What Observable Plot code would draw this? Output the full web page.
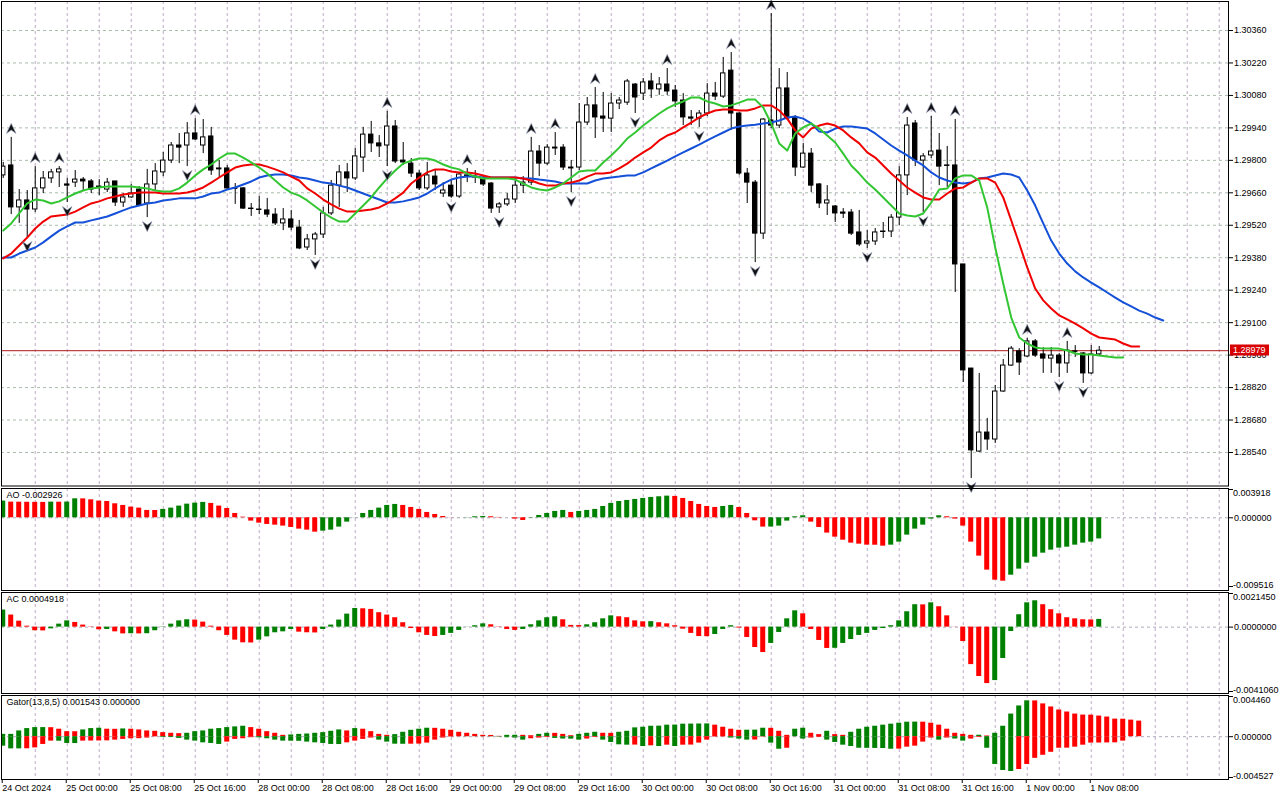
<!DOCTYPE html>
<html><head><meta charset="utf-8">
<script src="https://cdn.jsdelivr.net/npm/d3@7"></script>
<script src="https://cdn.jsdelivr.net/npm/@observablehq/plot@0.6"></script>
<style>
body{margin:0;background:#fff;}
#wrap{position:relative;width:1280px;height:800px;overflow:hidden;background:#fff;}
#wrap svg{position:absolute;left:0;max-width:none !important;}
</style></head><body><div id="wrap"></div>
<script>
// ---------- DATA (GBPUSD H1) ----------
const open=[1.29735,1.29778,1.29597,1.29627,1.29588,1.29679,1.29722,1.29748,1.29696,1.29704,
1.29717,1.29709,1.29687,1.29674,1.29709,1.29618,1.29640,1.29674,1.29614,1.29696,
1.29748,1.29799,1.29864,1.29864,1.29916,1.29864,1.29903,1.29765,1.29765,1.29679,
1.29679,1.29592,1.29588,1.29584,1.29566,1.29528,1.29545,1.29510,1.29424,1.29459,
1.29480,1.29571,1.29691,1.29748,1.29722,1.29812,1.29911,1.29873,1.29864,1.29946,
1.29799,1.29786,1.29743,1.29679,1.29730,1.29657,1.29691,1.29644,1.29735,1.29730,
1.29722,1.29700,1.29597,1.29610,1.29631,1.29691,1.29704,1.29838,1.29786,1.29855,
1.29855,1.29769,1.29769,1.29963,1.30037,1.29989,1.29980,1.30045,1.30049,1.30127,
1.30088,1.30140,1.30106,1.30127,1.30101,1.30058,1.29985,1.29980,1.30002,1.30088,
1.30075,1.30187,1.30002,1.29743,1.29704,1.29484,1.29972,1.29950,1.30110,1.29985,
1.29769,1.29829,1.29696,1.29614,1.29601,1.29575,1.29575,1.29489,1.29441,1.29450,
1.29493,1.29493,1.29553,1.29735,1.29959,1.29799,1.29821,1.29842,1.29778,1.29778,
1.29351,1.28902,1.28544,1.28626,1.28596,1.28803,1.28915,1.28976,1.28954,1.29019,
1.28963,1.28945,1.28958,1.28924,1.28976,1.28967,1.28881,1.28963];
const high=[1.29791,1.29899,1.29674,1.29670,1.29773,1.29752,1.29761,1.29773,1.29722,1.29756,
1.29726,1.29717,1.29717,1.29722,1.29709,1.29657,1.29696,1.29687,1.29761,1.29786,
1.29834,1.29877,1.29916,1.29963,1.29980,1.29976,1.29942,1.29799,1.29778,1.29700,
1.29683,1.29614,1.29644,1.29636,1.29592,1.29592,1.29584,1.29541,1.29480,1.29489,
1.29597,1.29713,1.29778,1.29786,1.29851,1.29942,1.29968,1.29907,1.30011,1.29972,
1.29877,1.29808,1.29756,1.29791,1.29756,1.29704,1.29713,1.29748,1.29765,1.29756,
1.29735,1.29704,1.29618,1.29657,1.29722,1.29730,1.29899,1.29864,1.29868,1.29920,
1.29868,1.29799,1.30045,1.30071,1.30114,1.30093,1.30088,1.30071,1.30149,1.30131,
1.30153,1.30175,1.30157,1.30196,1.30123,1.30088,1.30015,1.30015,1.30131,1.30136,
1.30244,1.30265,1.30006,1.29765,1.29713,1.29980,1.30433,1.30196,1.30179,1.29993,
1.29873,1.29851,1.29700,1.29691,1.29605,1.29592,1.29588,1.29584,1.29497,1.29506,
1.29532,1.29566,1.29773,1.29985,1.29972,1.29829,1.29989,1.29916,1.29860,1.29976,
1.29351,1.28902,1.28881,1.28687,1.28829,1.28941,1.28997,1.28988,1.29032,1.29027,
1.28993,1.28993,1.28967,1.29019,1.29001,1.28971,1.29001,1.28997];
const low=[1.29722,1.29566,1.29528,1.29467,1.29575,1.29657,1.29700,1.29683,1.29618,1.29683,
1.29670,1.29657,1.29648,1.29661,1.29601,1.29597,1.29636,1.29601,1.29553,1.29670,
1.29730,1.29786,1.29786,1.29773,1.29886,1.29829,1.29735,1.29722,1.29670,1.29610,
1.29588,1.29558,1.29566,1.29553,1.29519,1.29497,1.29497,1.29415,1.29411,1.29390,
1.29463,1.29562,1.29597,1.29661,1.29713,1.29748,1.29834,1.29812,1.29773,1.29786,
1.29778,1.29726,1.29670,1.29670,1.29670,1.29640,1.29636,1.29636,1.29704,1.29700,
1.29687,1.29571,1.29571,1.29601,1.29614,1.29657,1.29691,1.29730,1.29778,1.29821,
1.29756,1.29661,1.29756,1.29950,1.29894,1.29920,1.29920,1.30019,1.30037,1.30002,
1.30058,1.30067,1.30080,1.30080,1.30028,1.29950,1.29950,1.29942,1.29989,1.30058,
1.30067,1.29929,1.29735,1.29614,1.29359,1.29459,1.29937,1.29937,1.29972,1.29730,
1.29765,1.29661,1.29592,1.29562,1.29532,1.29549,1.29476,1.29428,1.29420,1.29433,
1.29463,1.29467,1.29519,1.29648,1.29773,1.29575,1.29808,1.29691,1.29683,1.29230,
1.28842,1.28428,1.28540,1.28549,1.28579,1.28799,1.28911,1.28872,1.28950,1.28950,
1.28881,1.28881,1.28863,1.28881,1.28950,1.28838,1.28876,1.28958];
const close=[1.29773,1.29597,1.29627,1.29588,1.29679,1.29722,1.29748,1.29761,1.29691,1.29717,
1.29709,1.29674,1.29683,1.29704,1.29618,1.29640,1.29657,1.29605,1.29696,1.29752,
1.29799,1.29864,1.29855,1.29916,1.29890,1.29899,1.29756,1.29761,1.29679,1.29677,
1.29592,1.29590,1.29586,1.29566,1.29528,1.29545,1.29510,1.29420,1.29459,1.29480,
1.29571,1.29691,1.29748,1.29722,1.29817,1.29911,1.29873,1.29860,1.29946,1.29795,
1.29791,1.29743,1.29679,1.29735,1.29696,1.29670,1.29644,1.29739,1.29730,1.29726,
1.29696,1.29592,1.29610,1.29631,1.29691,1.29704,1.29838,1.29786,1.29855,1.29851,
1.29769,1.29765,1.29963,1.30037,1.29985,1.29980,1.30045,1.30058,1.30140,1.30071,
1.30136,1.30106,1.30127,1.30097,1.30054,1.29985,1.29980,1.30002,1.30088,1.30075,
1.30175,1.30002,1.29743,1.29704,1.29484,1.29976,1.29950,1.30110,1.29980,1.29769,
1.29829,1.29691,1.29614,1.29627,1.29571,1.29570,1.29484,1.29437,1.29450,1.29489,
1.29491,1.29553,1.29735,1.29950,1.29799,1.29817,1.29838,1.29773,1.29776,1.29351,
1.28894,1.28549,1.28626,1.28596,1.28803,1.28915,1.28988,1.28928,1.29019,1.28958,
1.28945,1.28958,1.28924,1.28980,1.28974,1.28881,1.28963,1.28979];

// Alligator (already shifted as displayed)
const lips=[1.29497,1.29528,1.29571,1.29614,1.29631,1.29627,1.29614,1.29623,1.29640,1.29657,
1.29670,1.29679,1.29683,1.29687,1.29687,1.29687,1.29687,1.29683,1.29679,1.29670,
1.29666,1.29666,1.29679,1.29704,1.29735,1.29761,1.29782,1.29808,1.29829,1.29829,
1.29812,1.29791,1.29769,1.29743,1.29713,1.29683,1.29661,1.29648,1.29627,1.29601,
1.29575,1.29553,1.29536,1.29536,1.29571,1.29605,1.29640,1.29683,1.29722,1.29756,
1.29786,1.29799,1.29808,1.29808,1.29799,1.29782,1.29769,1.29761,1.29743,1.29730,
1.29722,1.29722,1.29722,1.29722,1.29717,1.29700,1.29683,1.29674,1.29670,1.29683,
1.29700,1.29726,1.29752,1.29756,1.29756,1.29791,1.29821,1.29855,1.29894,1.29920,
1.29950,1.29976,1.30002,1.30024,1.30041,1.30054,1.30071,1.30071,1.30054,1.30045,
1.30032,1.30037,1.30049,1.30062,1.30062,1.30028,1.29959,1.29873,1.29842,1.29916,
1.29942,1.29959,1.29937,1.29907,1.29877,1.29829,1.29778,1.29743,1.29704,1.29674,
1.29640,1.29605,1.29571,1.29562,1.29558,1.29571,1.29618,1.29674,1.29679,1.29722,
1.29735,1.29735,1.29713,1.29597,1.29424,1.29269,1.29122,1.29036,1.29010,1.28993,
1.28988,1.28988,1.28988,1.28980,1.28967,1.28963,1.28963,1.28958,1.28954,1.28950,
1.28950];
const teeth=[1.29377,1.29398,1.29433,1.29467,1.29506,1.29536,1.29558,1.29562,1.29566,1.29579,
1.29597,1.29614,1.29623,1.29636,1.29644,1.29653,1.29657,1.29661,1.29661,1.29661,
1.29657,1.29657,1.29657,1.29661,1.29670,1.29683,1.29704,1.29726,1.29748,1.29769,
1.29778,1.29782,1.29782,1.29773,1.29761,1.29748,1.29730,1.29713,1.29679,1.29657,
1.29631,1.29610,1.29592,1.29579,1.29579,1.29584,1.29588,1.29597,1.29614,1.29636,
1.29661,1.29700,1.29726,1.29748,1.29761,1.29761,1.29752,1.29748,1.29748,1.29743,
1.29735,1.29726,1.29726,1.29726,1.29726,1.29722,1.29713,1.29700,1.29691,1.29691,
1.29700,1.29704,1.29713,1.29730,1.29743,1.29743,1.29748,1.29765,1.29786,1.29812,
1.29834,1.29855,1.29886,1.29907,1.29920,1.29942,1.29963,1.29985,1.30002,1.30015,
1.30019,1.30019,1.30015,1.30015,1.30024,1.30037,1.30037,1.30015,1.29980,1.29929,
1.29899,1.29937,1.29950,1.29959,1.29950,1.29929,1.29899,1.29873,1.29834,1.29812,
1.29778,1.29743,1.29713,1.29683,1.29661,1.29640,1.29631,1.29631,1.29657,1.29679,
1.29683,1.29704,1.29722,1.29722,1.29704,1.29640,1.29541,1.29441,1.29338,1.29247,
1.29196,1.29161,1.29131,1.29114,1.29096,1.29075,1.29053,1.29036,1.29032,1.29027,
1.29010,1.28997,1.28997];
const jaw=[1.29381,1.29381,1.29398,1.29411,1.29424,1.29446,1.29472,1.29497,1.29515,1.29532,
1.29532,1.29541,1.29549,1.29558,1.29571,1.29584,1.29597,1.29605,1.29614,1.29618,
1.29627,1.29631,1.29636,1.29636,1.29636,1.29644,1.29657,1.29661,1.29674,1.29683,
1.29696,1.29709,1.29726,1.29735,1.29739,1.29739,1.29735,1.29726,1.29722,1.29713,
1.29704,1.29700,1.29691,1.29683,1.29670,1.29657,1.29644,1.29631,1.29618,1.29618,
1.29623,1.29631,1.29640,1.29657,1.29679,1.29700,1.29717,1.29726,1.29730,1.29730,
1.29726,1.29726,1.29726,1.29726,1.29726,1.29722,1.29722,1.29717,1.29713,1.29709,
1.29700,1.29700,1.29700,1.29700,1.29713,1.29722,1.29726,1.29730,1.29735,1.29735,
1.29748,1.29765,1.29782,1.29799,1.29817,1.29834,1.29851,1.29868,1.29886,1.29903,
1.29920,1.29937,1.29946,1.29950,1.29954,1.29959,1.29963,1.29972,1.29985,1.29989,
1.29980,1.29959,1.29924,1.29920,1.29937,1.29946,1.29946,1.29942,1.29937,1.29916,
1.29890,1.29864,1.29842,1.29821,1.29799,1.29778,1.29748,1.29726,1.29713,1.29704,
1.29700,1.29704,1.29722,1.29726,1.29735,1.29743,1.29739,1.29726,1.29670,1.29605,
1.29528,1.29454,1.29398,1.29355,1.29321,1.29295,1.29273,1.29252,1.29230,1.29208,
1.29187,1.29170,1.29152,1.29139,1.29122,1.29109];

// Fractals (bar indices)
const fractalUp=[1,4,7,24,48,58,66,69,74,83,91,96,113,116,119,128,133];
const fractalDown=[3,8,18,23,39,48,56,62,71,79,87,94,108,115,121,132,135];

// Awesome Oscillator
const ao=[0.00231,0.00217,0.00216,0.00215,0.00214,0.00213,0.00217,0.00216,0.00218,0.00263,
0.00262,0.00249,0.00231,0.00226,0.00194,0.00171,0.00148,0.00134,0.00102,0.00101,
0.00116,0.00134,0.00162,0.00189,0.00203,0.00213,0.00199,0.00162,0.00129,0.00060,
0.00009,-0.00046,-0.00074,-0.00092,-0.00102,-0.00115,-0.00134,-0.00157,-0.00171,-0.00199,
-0.00185,-0.00171,-0.00129,-0.00060,0.00002,0.00060,0.00102,0.00134,0.00171,0.00185,
0.00171,0.00143,0.00116,0.00074,0.00046,0.00018,-0.00002,0.00001,0.00003,0.00014,
0.00018,0.00014,0.00005,0.00000,-0.00018,-0.00037,-0.00005,0.00032,0.00060,0.00088,
0.00102,0.00074,0.00088,0.00102,0.00116,0.00157,0.00199,0.00226,0.00240,0.00254,
0.00268,0.00282,0.00291,0.00300,0.00296,0.00268,0.00226,0.00185,0.00157,0.00143,
0.00157,0.00171,0.00143,0.00060,-0.00042,-0.00129,-0.00128,-0.00115,-0.00046,0.00014,
0.00028,-0.00060,-0.00134,-0.00212,-0.00268,-0.00310,-0.00351,-0.00365,-0.00379,-0.00380,
-0.00393,-0.00379,-0.00337,-0.00240,-0.00157,-0.00102,-0.00018,0.00028,0.00014,-0.00018,
-0.00115,-0.00337,-0.00531,-0.00725,-0.00864,-0.00878,-0.00795,-0.00711,-0.00628,-0.00545,
-0.00490,-0.00448,-0.00420,-0.00407,-0.00379,-0.00351,-0.00337,-0.002926];
// Accelerator Oscillator
const ac=[0.00109,0.00077,0.00038,0.00006,-0.00023,-0.00024,-0.00011,0.00019,0.00040,0.00030,
0.00013,0.00002,-0.00017,-0.00015,-0.00030,-0.00043,-0.00042,-0.00043,-0.00042,-0.00023,
0.00002,0.00019,0.00040,0.00047,0.00045,0.00032,0.00006,-0.00023,-0.00053,-0.00083,
-0.00100,-0.00101,-0.00083,-0.00062,-0.00036,-0.00030,-0.00015,-0.00032,-0.00036,-0.00037,
-0.00015,0.00013,0.00045,0.00083,0.00119,0.00117,0.00113,0.00092,0.00077,0.00060,
0.00028,-0.00009,-0.00036,-0.00053,-0.00060,-0.00053,-0.00040,-0.00021,0.00001,0.00009,
0.00021,0.00015,-0.00002,-0.00015,-0.00021,-0.00015,0.00015,0.00040,0.00060,0.00066,
0.00047,0.00011,0.00010,0.00015,0.00028,0.00053,0.00072,0.00066,0.00060,0.00040,
0.00034,0.00035,0.00028,0.00021,0.00009,-0.00013,-0.00040,-0.00060,-0.00061,-0.00047,
-0.00015,0.00009,-0.00006,-0.00066,-0.00130,-0.00162,-0.00104,-0.00034,0.00053,0.00104,
0.00085,-0.00015,-0.00085,-0.00136,-0.00135,-0.00104,-0.00079,-0.00053,-0.00040,-0.00021,
-0.00009,0.00009,0.00040,0.00098,0.00143,0.00142,0.00155,0.00130,0.00072,-0.00001,
-0.00092,-0.00239,-0.00315,-0.00360,-0.00341,-0.00200,-0.00028,0.00079,0.00155,0.00168,
0.00143,0.00111,0.00085,0.00060,0.00053,0.00047,0.00046,0.0004918];
// Gator oscillator (upper = above zero, lower = below zero)
const gatorUp=[0.00026,0.00026,0.00064,0.00090,0.00101,0.00101,0.00100,0.00083,0.00056,0.00055,
0.00075,0.00090,0.00094,0.00083,0.00082,0.00086,0.00083,0.00075,0.00064,0.00060,
0.00045,0.00038,0.00034,0.00038,0.00056,0.00064,0.00083,0.00090,0.00101,0.00109,
0.00116,0.00101,0.00083,0.00056,0.00038,0.00015,0.00019,0.00026,0.00030,0.00038,
0.00045,0.00060,0.00075,0.00064,0.00090,0.00083,0.00056,0.00026,0.00015,0.00023,
0.00049,0.00071,0.00083,0.00094,0.00093,0.00083,0.00071,0.00049,0.00038,0.00026,
0.00015,0.00014,0.00004,0.00015,0.00016,0.00015,0.00011,0.00026,0.00038,0.00037,
0.00026,0.00011,0.00026,0.00038,0.00049,0.00038,0.00037,0.00049,0.00060,0.00098,
0.00105,0.00116,0.00117,0.00128,0.00129,0.00139,0.00140,0.00141,0.00142,0.00128,
0.00105,0.00083,0.00071,0.00072,0.00073,0.00094,0.00093,0.00060,0.00015,0.00083,
0.00094,0.00038,0.00023,0.00060,0.00023,0.00015,0.00049,0.00083,0.00105,0.00116,
0.00128,0.00139,0.00150,0.00161,0.00162,0.00161,0.00150,0.00128,0.00083,0.00038,
0.00026,0.00015,0.00016,0.00008,0.00038,0.00116,0.00251,0.00341,0.00398,0.00397,
0.00364,0.00330,0.00296,0.00274,0.00251,0.00240,0.00239,0.00229,0.00218,0.00195,
0.00194,0.00184,0.00173];
const gatorDown=[-0.00105,-0.00135,-0.00135,-0.00134,-0.00124,-0.00086,-0.00049,-0.00050,-0.00075,-0.00076,
-0.00049,-0.00048,-0.00047,-0.00046,-0.00038,-0.00030,-0.00023,-0.00022,-0.00015,-0.00002,
-0.00008,-0.00009,-0.00019,-0.00038,-0.00049,-0.00068,-0.00075,-0.00086,-0.00060,-0.00030,
-0.00023,-0.00011,-0.00012,-0.00023,-0.00038,-0.00049,-0.00050,-0.00051,-0.00060,-0.00068,
-0.00075,-0.00086,-0.00087,-0.00068,-0.00049,-0.00030,-0.00015,-0.00038,-0.00060,-0.00083,
-0.00084,-0.00083,-0.00082,-0.00071,-0.00038,-0.00015,-0.00004,-0.00001,-0.00001,-0.00001,
-0.00001,-0.00002,-0.00004,-0.00011,-0.00015,-0.00038,-0.00023,-0.00015,-0.00008,-0.00019,
-0.00026,-0.00027,-0.00038,-0.00026,-0.00008,-0.00038,-0.00064,-0.00090,-0.00094,-0.00093,
-0.00109,-0.00101,-0.00109,-0.00094,-0.00109,-0.00094,-0.00093,-0.00071,-0.00038,-0.00004,
-0.00003,-0.00015,-0.00026,-0.00038,-0.00037,-0.00004,-0.00071,-0.00139,-0.00128,-0.00001,
-0.00026,-0.00015,-0.00008,-0.00038,-0.00064,-0.00094,-0.00109,-0.00128,-0.00129,-0.00130,
-0.00131,-0.00139,-0.00138,-0.00116,-0.00105,-0.00060,-0.00015,-0.00038,-0.00015,-0.00026,
-0.00049,-0.00026,-0.00008,-0.00128,-0.00308,-0.00375,-0.00386,-0.00364,-0.00308,-0.00240,
-0.00206,-0.00173,-0.00128,-0.00127,-0.00116,-0.00094,-0.00071,-0.00070,-0.00069,-0.00068,
-0.00049,0,0];

const priceTicks=[1.28540,1.28680,1.28820,1.28960,1.29100,1.29240,1.29380,1.29520,1.29660,1.29800,1.29940,1.30080,1.30220,1.30360];
const timeTicks=[0,8,16,24,32,40,48,56,64,72,80,88,96,104,112,120,128,136];
const timeLabels=["24 Oct 2024","25 Oct 00:00","25 Oct 08:00","25 Oct 16:00","28 Oct 00:00","28 Oct 08:00","28 Oct 16:00","29 Oct 00:00","29 Oct 08:00","29 Oct 16:00","30 Oct 00:00","30 Oct 08:00","30 Oct 16:00","31 Oct 00:00","31 Oct 08:00","31 Oct 16:00","1 Nov 00:00","1 Nov 08:00"];
const lastPrice=1.28979;
const aoRange=[-0.009516,0.003918], acRange=[-0.0041060,0.0021450], gatorRange=[-0.004527,0.004460];

// ---------- DRAWING ----------
const W=1280, PLOT_RIGHT=1228;
const wrap=document.getElementById("wrap");
const FONT="'Liberation Sans', Arial, Helvetica, sans-serif";
const FS=9;
const GRIDV="#bfa8c6", GRIDH="#a9bcab";
const GREEN="#008000", RED="#ff0000";
const gridX=d3.range(4,153,4);
const xScale={domain:[-0.34,153.16],range:[0,PLOT_RIGHT]};
const style={fontFamily:FONT,fontSize:FS+"px",color:"black",background:"transparent",overflow:"visible"};
function place(svg,top){svg.style.top=top+"px";wrap.appendChild(svg);}

const candles=close.map((c,i)=>({i,o:open[i],h:high[i],l:low[i],c}));
const series=arr=>arr.map((v,i)=>({i,v}));
const arrowUp={draw(ctx,size){const r=Math.sqrt(size/Math.PI);ctx.moveTo(0,-r);ctx.lineTo(r*0.95,r);ctx.lineTo(0,r*0.3);ctx.lineTo(-r*0.95,r);ctx.closePath();}};
const arrowDown={draw(ctx,size){const r=Math.sqrt(size/Math.PI);ctx.moveTo(0,r);ctx.lineTo(r*0.95,-r);ctx.lineTo(0,-r*0.3);ctx.lineTo(-r*0.95,-r);ctx.closePath();}};

const priceBox=(index,scales,values,dimensions)=>{
  const y=scales.y(lastPrice), x0=dimensions.width-dimensions.marginRight;
  const g=d3.create("svg:g");
  g.append("rect").attr("x",x0+2).attr("y",Math.round(y)-5.5).attr("width",39).attr("height",11).attr("fill","#d80000");
  g.append("text").attr("x",x0+5).attr("y",y).attr("dy","0.36em").attr("text-anchor","start")
   .attr("fill","white").attr("font-size",FS).attr("font-family",FONT).text(lastPrice.toFixed(5));
  return g.node();
};

const main=Plot.plot({
  width:W,height:487,marginLeft:1,marginRight:W-PLOT_RIGHT,marginTop:1,marginBottom:1.5,
  x:{...xScale,axis:null},
  y:{domain:[1.28389,1.304894],range:[487,0],label:null},
  style,
  marks:[
    Plot.ruleX(gridX,{stroke:GRIDV,strokeDasharray:"3,3"}),
    Plot.ruleY(priceTicks,{stroke:GRIDH,strokeDasharray:"3,3"}),
    Plot.ruleY([lastPrice],{stroke:"#b01818"}),
    Plot.ruleX(candles,{x:"i",y1:"l",y2:"h",stroke:"black",clip:true}),
    Plot.rect(candles,{x1:d=>d.i-0.5,x2:d=>d.i+0.5,y1:"o",y2:"c",insetLeft:1.8,insetRight:1.8,fill:d=>d.c>=d.o?"white":"black",stroke:"black",clip:true}),
    Plot.line(series(jaw),{x:"i",y:"v",stroke:"#1450d8",strokeWidth:2,clip:true}),
    Plot.line(series(teeth),{x:"i",y:"v",stroke:"#f00000",strokeWidth:2,clip:true}),
    Plot.line(series(lips),{x:"i",y:"v",stroke:"#33c633",strokeWidth:2,clip:true}),
    Plot.dot(fractalUp,{x:d=>d,y:d=>high[d],dy:-9,symbol:arrowUp,r:5,fill:"#111",stroke:"#8a93b0",strokeWidth:0.6}),
    Plot.dot(fractalDown,{x:d=>d,y:d=>low[d],dy:9,symbol:arrowDown,r:5,fill:"#111",stroke:"#8a93b0",strokeWidth:0.6}),
    Plot.frame({stroke:"black"}),
    Plot.axisY(priceTicks,{anchor:"right",tickFormat:d=>d.toFixed(5),tickSize:4,tickPadding:1.5,label:null}),
    priceBox
  ]
});
place(main,0);

function colored(arr){return arr.map((v,i)=>({i,v,up:i===0||Math.abs(v)>=Math.abs(arr[i-1])}));}
function signColored(arr){return arr.map((v,i)=>({i,v,up:i===0||v>=arr[i-1]}));}

function subPanel({top,height,marginBottom=1,range,yRange,digits,title,groups,extra=[]}){
  const [mn,mx]=range;
  const fmt=d=>d.toFixed(digits);
  const marks=[
    Plot.ruleX(gridX,{stroke:GRIDV,strokeDasharray:"3,3"}),
    Plot.ruleY([0],{stroke:"#b0a8bc",strokeDasharray:"3,3"}),
    ...groups.map(data=>Plot.rect(data,{x1:d=>d.i-0.5,x2:d=>d.i+0.5,y1:0,y2:"v",insetLeft:1.5,insetRight:1.5,fill:d=>d.up?GREEN:RED,clip:true})),
    Plot.frame({stroke:"black"}),
    Plot.axisY([mx,0,mn],{anchor:"right",tickSize:4,tickPadding:1.5,tickFormat:d=>d===0?fmt(0):null,label:null}),
    Plot.text([mx],{y:d=>d,frameAnchor:"right",dx:4.5,textAnchor:"start",lineAnchor:"top",dy:0,text:d=>fmt(d)}),
    Plot.text([mn],{y:d=>d,frameAnchor:"right",dx:4.5,textAnchor:"start",lineAnchor:"bottom",dy:1,text:d=>fmt(d)}),
    Plot.text([title],{frameAnchor:"top-left",dx:5,dy:3,textAnchor:"start",lineAnchor:"top"}),
    ...extra
  ];
  const svg=Plot.plot({
    width:W,height,marginLeft:1,marginRight:W-PLOT_RIGHT,marginTop:1,marginBottom,
    x:{...xScale,axis:null},
    y:{domain:range,range:yRange,label:null},
    style,marks
  });
  place(svg,top);
}

subPanel({top:487,height:104,range:aoRange,yRange:[99,2],digits:6,title:"AO "+ao[ao.length-1].toFixed(6),groups:[signColored(ao)]});
subPanel({top:591,height:103,range:acRange,yRange:[100,2],digits:7,title:"AC "+ac[ac.length-1].toFixed(7),groups:[signColored(ac)]});
const labelMap=new Map(timeTicks.map((t,k)=>[t,timeLabels[k]]));
subPanel({top:694,height:106,marginBottom:21,range:gatorRange,yRange:[83,2],digits:6,
  title:"Gator(13,8,5) 0.001543 0.000000",
  groups:[colored(gatorUp),colored(gatorDown)],
  extra:[Plot.axisX(timeTicks,{anchor:"bottom",tickSize:4,tickPadding:1,tickFormat:d=>labelMap.get(d),textAnchor:"start",dx:-1,label:null})]
});
</script></body></html>
